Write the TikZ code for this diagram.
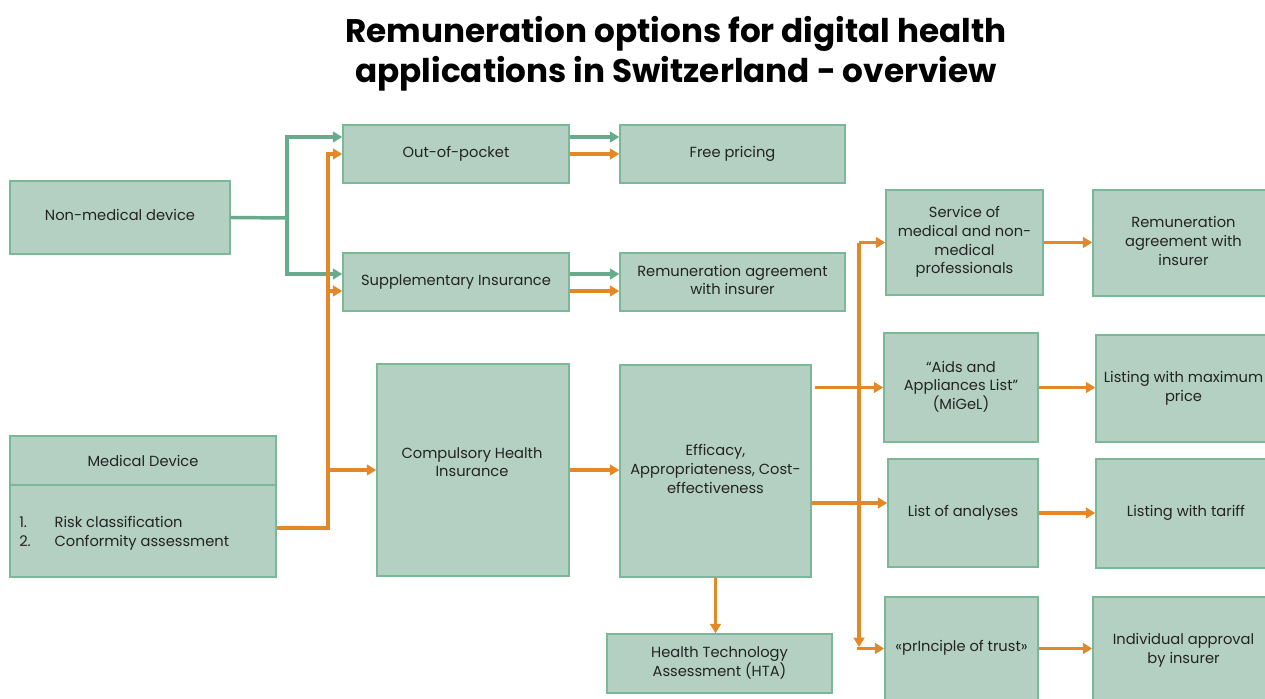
\documentclass[tikz,border=0pt]{standalone}
\usepackage{fontspec}
\setmainfont{Poppins}
\usetikzlibrary{arrows.meta,calc}
\definecolor{boxfill}{RGB}{180,208,194}
\definecolor{boxline}{RGB}{122,184,152}
\definecolor{gline}{RGB}{104,170,140}
\definecolor{oline}{RGB}{228,135,38}
\definecolor{txtc}{RGB}{35,35,35}
% \mkbox{name}{x1}{y1}{x2}{y2}{text}  (pixel coordinates, y downward)
\newcommand\mkbox[6]{%
  \pgfmathsetmacro\bw{(#4-#2)*0.75}%
  \pgfmathsetmacro\bh{(#5-#3)*0.75}%
  \node[box, minimum width=\bw pt, minimum height=\bh pt] (#1) at ({(#2+#4)/2},{(#3+#5)/2}) {#6};}
\begin{document}
\begin{tikzpicture}[x=0.75pt,y=-0.75pt,
  box/.style={draw=boxline, fill=boxfill, line width=1.1pt, inner sep=0pt, align=center,
    font=\fontsize{11}{14}\selectfont, text=txtc, text depth=3.2pt},
  txt/.style={inner sep=0pt, align=left, font=\fontsize{11}{14}\selectfont, text=txtc},
  gl/.style={draw=gline, line width=2.6pt},
  ol/.style={draw=oline, line width=2.4pt},
  ga/.style={gl, -{Triangle[length=7pt,width=8pt]}},
  oa/.style={ol, -{Triangle[length=7pt,width=8pt]}},
]
\useasboundingbox (0,0) rectangle (1265,699);
\clip (0,0) rectangle (1265,699);

% title
\node[font=\bfseries\fontsize{24.5}{30}\selectfont, align=center, inner sep=0pt] (title) at (676,54)
  {Remuneration options for digital health\\applications in Switzerland - overview};

% boxes
\mkbox{nmd}{10}{181}{230}{254}{Non-medical device}
\mkbox{oop}{343}{125}{569}{183}{Out-of-pocket}
\mkbox{free}{620}{125}{845}{183}{Free pricing}
\mkbox{supp}{343}{253}{569}{311}{Supplementary Insurance}
\mkbox{rem1}{620}{253}{845}{311}{Remuneration agreement\\with insurer}
\mkbox{md}{10}{436}{276}{577}{}
\draw[boxline, line width=1.1pt] (md.west |- 0,485) -- (md.east |- 0,485);
\node[txt] (mdt) at (143,461) {Medical Device};
\node[txt, anchor=north west] (mdl) at (19,514)
  {\begin{tabular}{@{}p{26.5pt}@{}l@{}}1.&Risk classification\\2.&Conformity assessment\end{tabular}};
\mkbox{chi}{377}{364}{569}{576}{}
\node[txt, align=center] (chit) at (472,462) {Compulsory Health\\Insurance};
\mkbox{eff}{620}{365}{811}{577}{Efficacy,\\Appropriateness, Cost-\\effectiveness}
\mkbox{hta}{607}{634}{832}{693}{Health Technology\\Assessment (HTA)}
\mkbox{serv}{886}{190}{1043}{295}{Service of\\medical and non-\\medical\\professionals}
\mkbox{rem2}{1093}{190}{1274}{296}{Remuneration\\agreement with\\insurer}
\mkbox{aids}{884}{333}{1038}{442}{``Aids and\\Appliances List''\\(MiGeL)}
\mkbox{maxp}{1096}{335}{1271}{442}{Listing with maximum\\price}
\mkbox{ana}{888}{459}{1038}{567}{List of analyses}
\mkbox{tar}{1096}{459}{1276}{568}{Listing with tariff}
\mkbox{trust}{885}{597}{1038}{700}{«prInciple of trust»}
\mkbox{ind}{1093}{597}{1274}{704}{Individual approval\\by insurer}

% green connectors
\coordinate (gj) at (287,218);
\draw[gl] (nmd.east) -- (gj);
\draw[ga] (gj) |- ($(oop.west)+(0,-17)$);
\draw[ga] (gj) |- ($(supp.west)+(0,-8)$);
\draw[ga] ($(oop.east)+(0,-17)$) -- ($(free.west)+(0,-17)$);
\draw[ga] ($(supp.east)+(0,-8)$) -- ($(rem1.west)+(0,-8)$);

% orange connectors
\coordinate (oj1) at (328,154);
\coordinate (oj2) at (328,291);
\coordinate (oj3) at (328,470);
\draw[oa] ($(md.east)+(0,21.5)$) -| (oj1) -- (oop.west);
\draw[oa] (oj2) -- ($(supp.west)+(0,9)$);
\draw[oa] (oj3) -- (chi.west);
\draw[oa] (oop.east) -- (free.west);
\draw[oa] ($(supp.east)+(0,9)$) -- ($(rem1.west)+(0,9)$);
\draw[oa] (chi.east) -- (eff.west |- chi.east);
\draw[oa] (eff.south) -- (eff.south |- hta.north);
\draw[oa] ($(eff.east |- aids.west)+(3,0)$) -- (aids.west);
\draw[oa] ($(eff.east)+(0,32)$) -- ($(ana.west)+(0,-10)$);
\coordinate (vt) at (859,242.5);
\coordinate (vb) at (859,647);
\coordinate (vb2) at (857,648.5);
\draw[oa] (vt) -- (vb);
\draw[oa] (vt) -- (serv.west);
\draw[oa] (vb2) -- (trust.west);
\draw[oa] (serv.east) -- (serv.east -| rem2.west);
\draw[oa] (aids.east) -- (aids.east -| maxp.west);
\draw[oa] (ana.east) -- (ana.east -| tar.west);
\draw[oa] (trust.east) -- (trust.east -| ind.west);
\end{tikzpicture}
\end{document}
